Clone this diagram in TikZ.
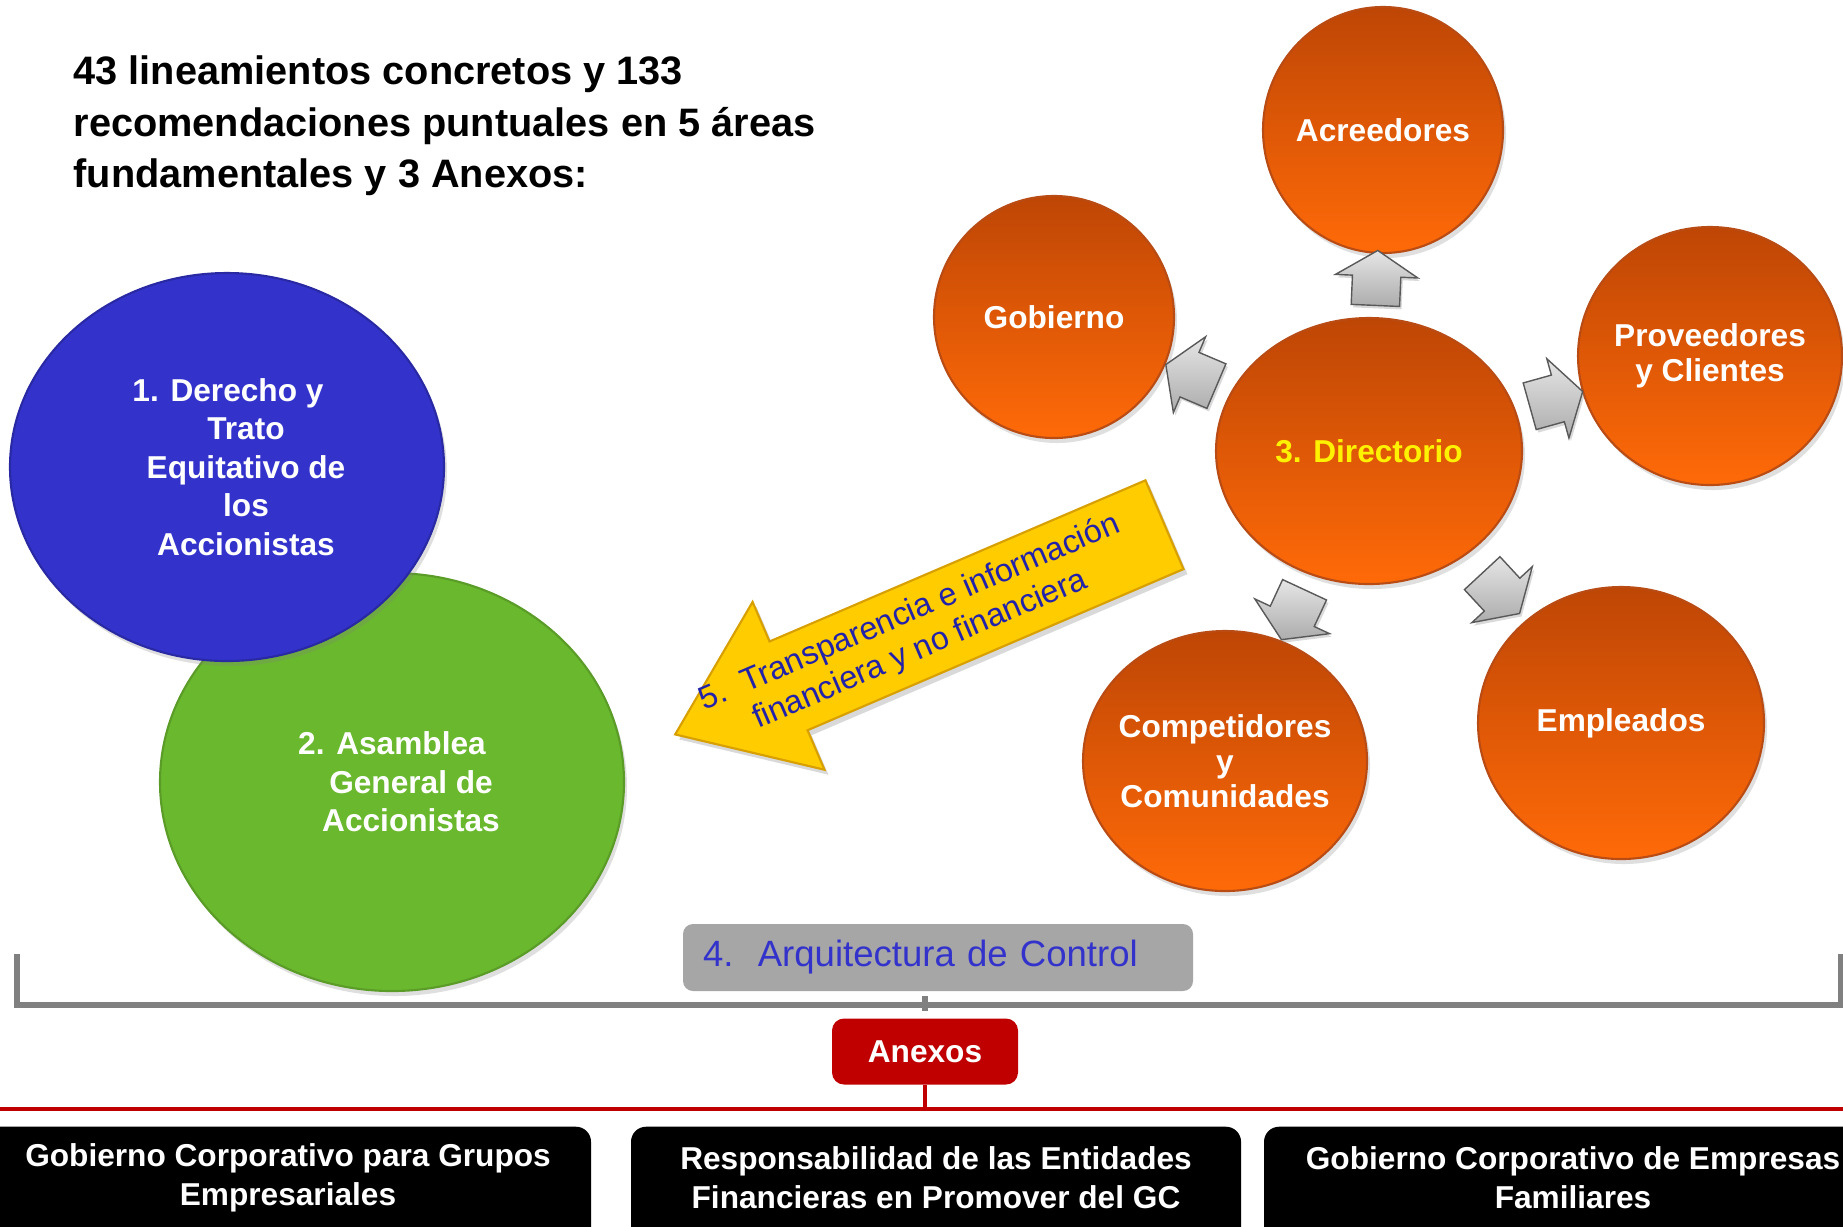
\documentclass[tikz,border=0pt]{standalone}
\usepackage{fontspec}
\setmainfont{Liberation Sans}
\usetikzlibrary{shapes.geometric, shapes.arrows, shadows}

\definecolor{orangetop}{RGB}{190,70,5}
\definecolor{orangemid}{RGB}{238,92,5}
\definecolor{orangebot}{RGB}{255,106,8}
\definecolor{orangeline}{RGB}{185,75,20}
\definecolor{accblue}{RGB}{51,51,204}
\definecolor{accgreen}{RGB}{106,184,46}
\definecolor{gold}{RGB}{255,204,0}
\definecolor{goldline}{RGB}{215,160,0}
\definecolor{textblue}{RGB}{34,34,170}
\definecolor{boxgray}{RGB}{166,166,166}
\definecolor{brkgray}{RGB}{128,128,128}
\definecolor{anxred}{RGB}{192,0,0}

\begin{document}
\begin{tikzpicture}[
		every label/.append style={text=white, align=center, inner sep=0pt},
		stake/.style={ellipse, inner sep=0pt, top color=orangetop, middle color=orangemid, bottom color=orangebot, draw=orangeline, line width=0.6pt, drop shadow={opacity=0.25, shadow xshift=0.03cm, shadow yshift=-0.05cm}, label={[font=\bfseries\fontsize{9}{9.9}\selectfont]center:{#1}}},
		area/.style={ellipse, inner sep=0pt, line width=0.6pt, drop shadow={opacity=0.25, shadow xshift=0.03cm, shadow yshift=-0.05cm}},
		garrow/.style={single arrow, inner xsep=0pt, inner ysep=0.235cm, minimum height=0.55cm, minimum width=0.81cm, single arrow head extend=0.17cm, single arrow tip angle=116, top color=gray!20, bottom color=gray!65, draw=gray!70!black, line width=0.4pt, drop shadow={opacity=0.3, shadow xshift=0.02cm, shadow yshift=-0.03cm}},
		annex/.style={anchor=north, fill=black, rounded corners=0.15cm, minimum height=1.4cm, label={[yshift=0.21cm, font=\bfseries\fontsize{9}{11}\selectfont]center:{\strut#1}}},
		brk/.style={draw=brkgray, line width=1.8pt},
		redline/.style={draw=anxred, line width=1pt}
	]
			\clip (0,0) rectangle (18.43,-12.26);
			\node (title) [anchor=north west, align=left, inner sep=0pt, font=\bfseries\fontsize{11.3}{14.7}\selectfont] at (0.73,-0.55) {43 lineamientos concretos y 133\\recomendaciones puntuales en 5 áreas\\fundamentales y 3 Anexos:};

			\node (asam) [area, fill=accgreen, draw=accgreen!85!black, minimum width=4.64cm, minimum height=4.18cm, label={[xshift=0.19cm, font=\bfseries\fontsize{9}{11}\selectfont]center:{2. Asamblea\hspace*{0.38cm}\\General de\\Accionistas}}] at (3.92,-7.82) {};
			\node (dere) [area, fill=accblue, draw=accblue!80!black, minimum width=4.34cm, minimum height=3.88cm, label={[xshift=0.19cm, font=\bfseries\fontsize{9}{11}\selectfont]center:{1. Derecho y\hspace*{0.36cm}\\Trato\\Equitativo de\\los\\Accionistas}}] at (2.27,-4.67) {};

			\node (acr) [stake=Acreedores, minimum width=2.40cm, minimum height=2.46cm] at (13.83,-1.30) {};
			\node (gob) [stake=Gobierno, minimum width=2.40cm, minimum height=2.42cm] at (10.54,-3.17) {};
			\node (prov) [stake={Proveedores\\y Clientes}, minimum width=2.64cm, minimum height=2.58cm] at (17.10,-3.56) {};
			\node (dir) [stake={\textcolor{yellow}{3. Directorio}}, minimum width=3.06cm, minimum height=2.66cm] at (13.69,-4.51) {};
			\node (comp) [stake={Competidores\\y\\Comunidades}, minimum width=2.84cm, minimum height=2.60cm] at (12.25,-7.61) {};
			\node (emp) [stake=Empleados, minimum width=2.86cm, minimum height=2.72cm] at (16.21,-7.23) {};

			\foreach \t in {acr, gob, prov, comp, emp}
				\path (dir) -- (\t) node[midway, sloped, allow upside down, garrow] {};

			\node (trans) [single arrow, shape border rotate=180, rotate=23.2, minimum height=4.62cm, minimum width=1.82cm, single arrow head extend=0.43cm, single arrow tip angle=73, inner xsep=1pt, inner ysep=0.13cm, fill=gold, draw=goldline, line width=0.6pt, drop shadow={opacity=0.3, shadow xshift=0.04cm, shadow yshift=-0.05cm}, align=left, text=textblue, font=\fontsize{9.2}{10.8}\selectfont] at (9.498,-6.167) {\hspace*{-0.33cm}5.\ \ Transparencia e información\hspace*{0.375cm}\\\hspace*{1.3em}\hspace*{-0.33cm}financiera y no financiera};

			\node (ctrl) [fill=boxgray, rounded corners=0.1cm, minimum width=5.1cm, minimum height=0.67cm, inner xsep=0.2cm, text width=4.7cm, align=left, text=accblue, font=\fontsize{10.4}{12}\selectfont] at (9.38,-9.575) {4.\ \ Arquitectura de Control};

			\coordinate (gbar) at (0,-10.05);
			\coordinate (rbar) at (0,-11.09);
			\node (anx) [fill=anxred, rounded corners=0.12cm, minimum width=1.86cm, minimum height=0.66cm, text=white, font=\bfseries\fontsize{9}{11}\selectfont] at (9.25,-10.515) {Anexos};

			\draw [brk] (0.17,-9.54) -- (0.17,-10.05) -- (18.41,-10.05) -- (18.41,-9.54);
			\draw [brk] (anx.north |- gbar) ++(0,0.09) -- ++(0,-0.15);

			\draw [redline] (rbar) -- (18.43,-11.09);
			\draw [redline] (anx.south) -- (anx.south |- rbar);

			\node (ax1) [annex={Gobierno Corporativo para Grupos\\Empresariales}, minimum width=6.06cm] at (2.88,-11.26) {};
			\node (ax2) [annex={Responsabilidad de las Entidades\\Financieras en Promover del GC}, minimum width=6.10cm] at (9.36,-11.26) {};
			\node (ax3) [annex={Gobierno Corporativo de Empresas\\Familiares}, minimum width=6.18cm] at (15.73,-11.26) {};
		\end{tikzpicture}
\end{document}
